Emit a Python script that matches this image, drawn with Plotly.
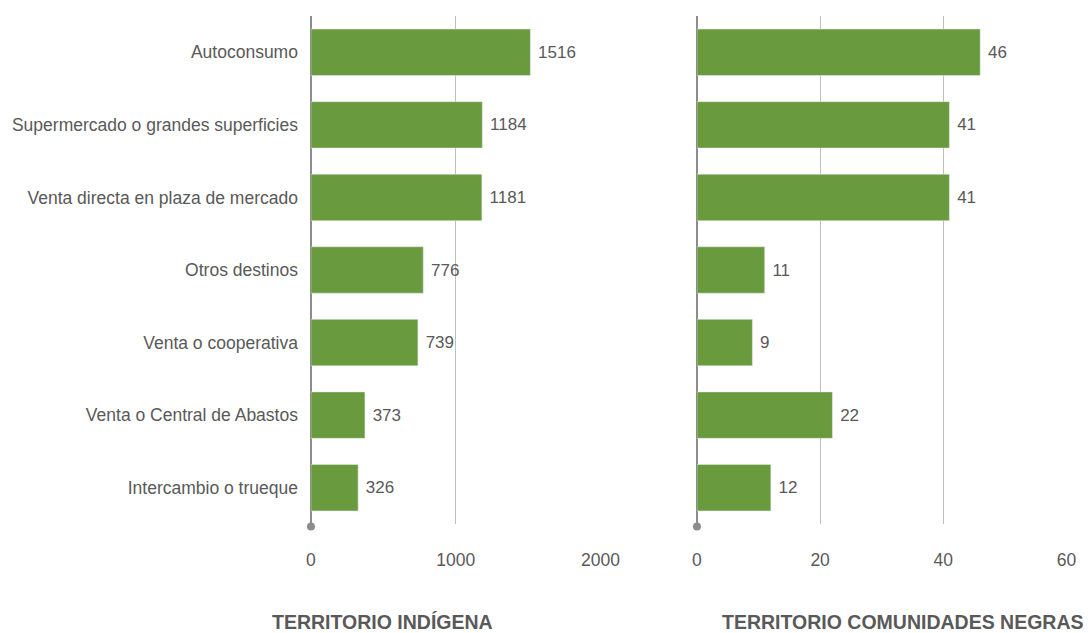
import plotly.graph_objects as go
from plotly.subplots import make_subplots

# Datos
destinos = ['Autoconsumo', 'Supermercado o grandes superficies', 'Venta directa en plaza de mercado',
            'Otros destinos', 'Venta o cooperativa', 'Venta o Central de Abastos', 'Intercambio o trueque']
indigena = [1516, 1184, 1181, 776, 739, 373, 326]
negras = [46, 41, 41, 11, 9, 22, 12]
titulos = ['TERRITORIO INDÍGENA', 'TERRITORIO COMUNIDADES NEGRAS']

verde = '#6a9a3e'
gris = '#595959'
fuente = 'Liberation Sans Narrow, Arial Narrow, Liberation Sans, sans-serif'

dom1 = [0.2858, 0.5524]
dom2 = [0.6406, 0.9807]

fig = make_subplots(rows=1, cols=2, shared_yaxes=False)
for i, vals in enumerate([indigena, negras]):
    fig.add_trace(go.Bar(y=destinos, x=vals, orientation='h', marker_color=verde,
                         text=vals, texttemplate='\u00a0%{x}', textposition='outside',
                         cliponaxis=False,
                         textfont=dict(size=17, color=gris, family=fuente)),
                  row=1, col=i + 1)

fig.update_layout(
    width=1088, height=633, showlegend=False, bargap=0.36,
    margin=dict(l=0, r=0, t=16, b=109, autoexpand=False),
    plot_bgcolor='white', paper_bgcolor='white',
    font=dict(family=fuente, size=17, color=gris),
    xaxis=dict(domain=dom1, range=[0, 2004], tickvals=[0, 1000, 2000]),
    xaxis2=dict(domain=dom2, range=[0, 60.1], tickvals=[0, 20, 40, 60]),
    yaxis=dict(autorange='reversed'),
    yaxis2=dict(autorange='reversed', showticklabels=False),
)
fig.update_xaxes(showgrid=True, gridcolor='#bfbfbf', gridwidth=1, zeroline=True,
                 zerolinecolor='#8c8c8c', zerolinewidth=2, showline=False, automargin=False,
                 ticklabelstandoff=23, tickfont=dict(size=17.5, color=gris))
fig.update_yaxes(showline=False, showgrid=False, automargin=False, ticklabelstandoff=12,
                 tickfont=dict(size=17.5, color=gris))

# punto al pie de cada eje
for d in [dom1, dom2]:
    fig.add_shape(type='circle', xref='paper', yref='paper', xsizemode='pixel', ysizemode='pixel',
                  xanchor=d[0], yanchor=-0.005, x0=-4, x1=4, y0=-4, y1=4,
                  fillcolor='#8c8c8c', line_width=0)

for xc, t in zip([0.352, 0.83], titulos):
    fig.add_annotation(text='<b>' + t + '</b>', xref='paper', yref='paper', x=xc, xanchor='center',
                       y=-0.218, showarrow=False, font=dict(size=19.5, color=gris, family=fuente))

fig.write_html('out.html', config={'displayModeBar': False},
               post_script="document.body.style.margin='0';")
